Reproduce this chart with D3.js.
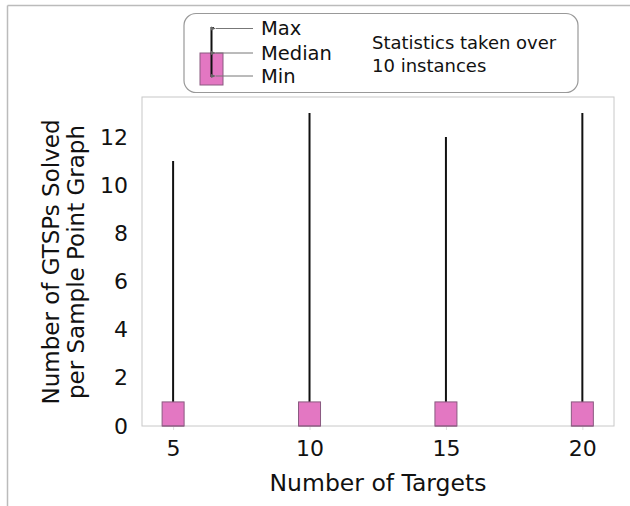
<!DOCTYPE html>
<html><head><meta charset="utf-8">
<script src="https://cdn.jsdelivr.net/npm/d3@7"></script>
<style>body{margin:0;background:#fff}svg{display:block}text{font-family:"DejaVu Sans",sans-serif;fill:#111}</style>
</head><body><div id="chart"></div>
<script>
const targets = [5, 10, 15, 20];
const maxVals = [11, 13, 12, 13];
const q3Vals = [1, 1, 1, 1];
const medianVals = [0, 0, 0, 0];
const minVals = [0, 0, 0, 0];
const yTicks = [0, 2, 4, 6, 8, 10, 12];

const W = 630, H = 506;
const svg = d3.select("#chart").append("svg").attr("width", W).attr("height", H);

// page frame lines
svg.append("line").attr("x1", 7.5).attr("x2", W).attr("y1", 5.5).attr("y2", 5.5).attr("stroke", "#bbb").attr("stroke-width", 1.5);
svg.append("line").attr("x1", 7.5).attr("x2", 7.5).attr("y1", 5.5).attr("y2", H).attr("stroke", "#bbb").attr("stroke-width", 1.5);

const L = 142, R = 614, T = 97, B = 426;
const x = d3.scaleLinear().domain([3.86, 21.16]).range([L, R]);
const y = d3.scaleLinear().domain([0, 12]).range([B, 137]);

// frame
svg.append("rect").attr("x", L).attr("y", T).attr("width", R - L).attr("height", B - T)
  .attr("fill", "none").attr("stroke", "#c8c8c8").attr("stroke-width", 1);

// axes
const xAxis = svg.append("g").attr("transform", `translate(0,${B})`)
  .call(d3.axisBottom(x).tickValues(targets).tickSize(4).tickPadding(10));
xAxis.select(".domain").remove();
xAxis.selectAll("line").attr("stroke", "#ddd");
xAxis.selectAll("text").attr("font-size", 22).attr("font-family", "DejaVu Sans").attr("fill", "#111");

const yAxis = svg.append("g").attr("transform", `translate(${L},0)`)
  .call(d3.axisLeft(y).tickValues(yTicks).tickSize(0).tickPadding(14));
yAxis.select(".domain").remove();
yAxis.selectAll("text").attr("font-size", 22).attr("font-family", "DejaVu Sans").attr("fill", "#111");

// boxes
const bw = 22;
targets.forEach((t, i) => {
  svg.append("line").attr("x1", x(t)).attr("x2", x(t)).attr("y1", y(maxVals[i])).attr("y2", y(minVals[i]))
    .attr("stroke", "#111").attr("stroke-width", 2);
  svg.append("rect").attr("x", x(t) - bw / 2).attr("y", y(q3Vals[i])).attr("width", bw)
    .attr("height", y(minVals[i]) - y(q3Vals[i]))
    .attr("fill", "#e377c2").attr("stroke", "#8a5a80").attr("stroke-width", 1);
  svg.append("line").attr("x1", x(t) - bw / 2).attr("x2", x(t) + bw / 2).attr("y1", y(medianVals[i])).attr("y2", y(medianVals[i]))
    .attr("stroke", "#8a5a80").attr("stroke-width", 1);
});

// axis labels
svg.append("text").attr("x", 378).attr("y", 491).attr("text-anchor", "middle").attr("font-size", 23.5)
  .text("Number of Targets");
const yl = svg.append("text").attr("transform", "translate(62,262) rotate(-90)").attr("text-anchor", "middle").attr("font-size", 23);
yl.append("tspan").attr("x", 0).attr("dy", "-0.15em").text("Number of GTSPs Solved");
yl.append("tspan").attr("x", 0).attr("dy", "1.1em").text("per Sample Point Graph");

// legend
const lg = svg.append("g");
lg.append("rect").attr("x", 184).attr("y", 13.5).attr("width", 394).attr("height", 79).attr("rx", 12)
  .attr("fill", "#fff").attr("stroke", "#999").attr("stroke-width", 1.2);
lg.append("rect").attr("x", 200).attr("y", 53).attr("width", 23).attr("height", 32)
  .attr("fill", "#e377c2").attr("stroke", "#8a5a80").attr("stroke-width", 1);
lg.append("path").attr("d", "M214,28 L211.5,28 L211.5,77").attr("fill", "none").attr("stroke", "#111").attr("stroke-width", 2);
const defs = svg.append("defs");
defs.append("marker").attr("id", "ah").attr("viewBox", "0 0 6 6").attr("refX", 0).attr("refY", 3)
  .attr("markerWidth", 5).attr("markerHeight", 5).attr("orient", "auto")
  .append("path").attr("d", "M6,0.5 L0,3 L6,5.5 Z").attr("fill", "#666");
const legendItems = ["Max", "Median", "Min"];
const legendY = [28.5, 53, 76];
legendItems.forEach((s, i) => {
  lg.append("line").attr("x1", 253).attr("x2", 216).attr("y1", legendY[i]).attr("y2", legendY[i])
    .attr("stroke", "#777").attr("stroke-width", 1).attr("marker-end", "url(#ah)");
  lg.append("text").attr("x", 261).attr("y", legendY[i]).attr("dy", "0.35em").attr("font-size", 19.5)
    .attr("font-family", "Liberation Sans, Arial, sans-serif").text(s);
});
lg.append("text").attr("x", 372).attr("y", 43).attr("dy", "0.35em").attr("font-size", 18)
  .attr("font-family", "Liberation Sans, Arial, sans-serif").text("Statistics taken over");
lg.append("text").attr("x", 372).attr("y", 66).attr("dy", "0.35em").attr("font-size", 18)
  .attr("font-family", "Liberation Sans, Arial, sans-serif").text("10 instances");
</script></body></html>
